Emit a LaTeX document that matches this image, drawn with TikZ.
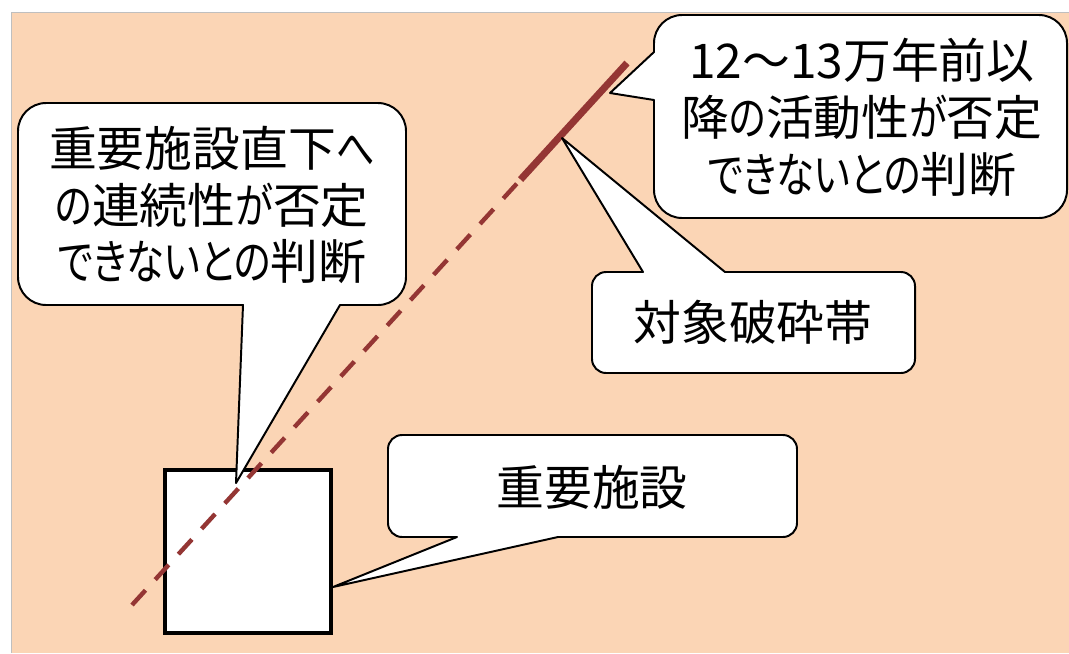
\documentclass[tikz,border=0pt]{standalone}
\usepackage{fontspec}
\setmainfont{Noto Sans CJK JP}
\newfontfamily\kanafont{Noto Sans CJK JP}[RawFeature=+palt, FakeStretch=0.8]
\newcommand{\kanatext}[1]{{\kanafont #1}}
\usepackage{xcolor}
\usepackage{tikz}
\usetikzlibrary{calc}
\definecolor{peach}{HTML}{FBD5B5}
\definecolor{faultred}{HTML}{943634}

\begin{document}
\begin{tikzpicture}[x=0.025cm, y=-0.025cm,
        bubble/.style={draw=black, fill=white, line width=1.4pt, line join=round},
        bubbletext/.style={align=center, font=\fontsize{34pt}{40.5pt}\selectfont},
        fault/.style={draw=faultred}]
        \useasboundingbox (0, 0) rectangle (1069, 653);
        \fill[peach] (11, 12) rectangle (1069, 653);
        \draw[black!25, line width=0.7pt] (11, 653) -- (11, 12) -- (1069, 12);
        \draw[line width=0.1cm, fill=white] (165, 470) rectangle (331, 633);
        \coordinate (faultlow) at (132, 605);
        \coordinate (faulttop) at (627, 63);
        \coordinate (faultmid) at ($(faultlow)!0.785!(faulttop)$);
        \draw[fault, line width=0.11cm, dash pattern=on 0.5cm off 0.36cm] (faultlow) -- (faultmid);
        \draw[fault, line width=0.175cm] (faultmid) -- (faulttop);
        \draw[bubble] (340, 305) [rounded corners=20pt] -- (406, 305) -- (406, 103) -- (18, 103) -- (18, 305) [sharp corners] -- (243, 305) -- (236, 483) -- cycle;
        \draw[bubble] (654, 100) [rounded corners=20pt] -- (654, 218) -- (1067, 218) -- (1067, 15) -- (654, 15) [sharp corners] -- (654, 52) -- (610, 93) -- cycle;
        \draw[bubble] (725, 272) [rounded corners=10pt] -- (915, 272) -- (915, 373) -- (592, 373) -- (592, 272) [sharp corners] -- (643, 272) -- (562, 138) -- cycle;
        \draw[bubble] (558, 537) [rounded corners=10pt] -- (797, 537) -- (797, 435) -- (388, 435) -- (388, 537) [sharp corners] -- (457, 537) -- (333, 587) -- cycle;
        \node[bubbletext] (continuity) at (212, 205) {重要施設直下\kanatext{へ}\\\kanatext{の}連続性\kanatext{が}否定\\\kanatext{できないとの}判断};
        \node[bubbletext] (activity) at (862, 117) {12～13万年前以\\降\kanatext{の}活動性\kanatext{が}否定\\\kanatext{できないとの}判断};
        \node[bubbletext] (fracturezone) at (753, 322) {対象破砕帯};
        \node[bubbletext] (facility) at (592, 487) {重要施設};
    \end{tikzpicture}
\end{document}
